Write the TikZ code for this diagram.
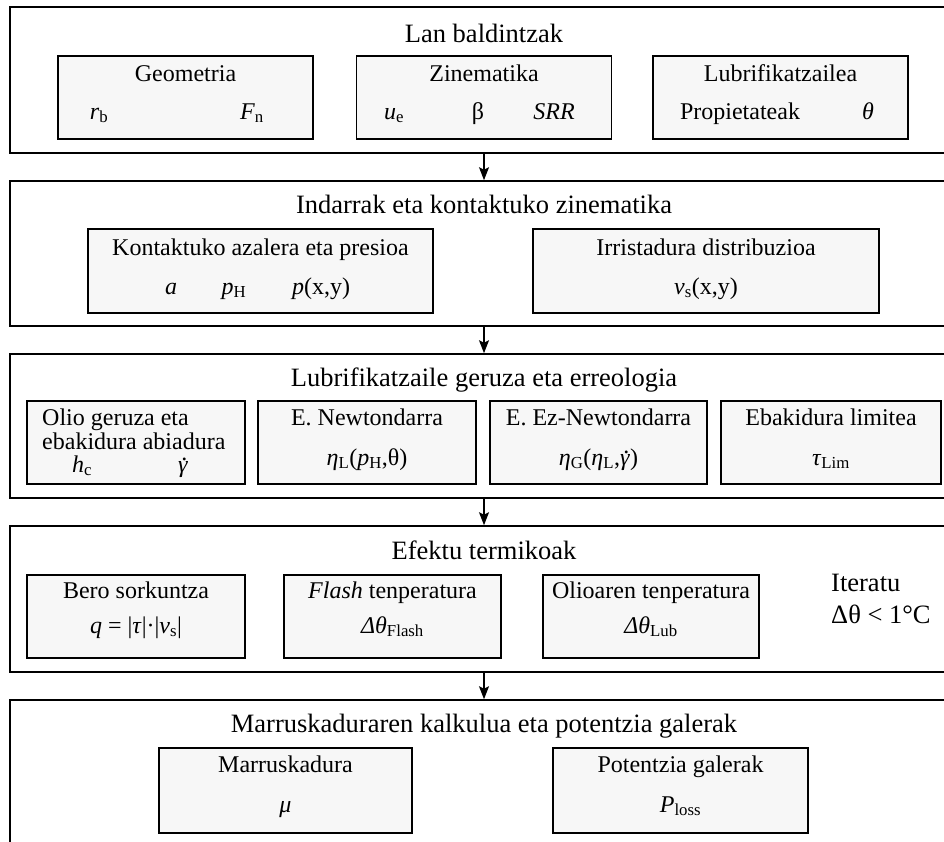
\documentclass[tikz,border=0pt]{standalone}
\usepackage{fontspec}
\setmainfont{Liberation Serif}
\usetikzlibrary{arrows.meta}
\newcommand{\sbs}[1]{\textsubscript{#1}}
\newcommand{\gd}{\textit{γ}\llap{\smash{\raisebox{0.5em}{.}}\hspace{0.03em}}}
\begin{document}
\begin{tikzpicture}[x=1pt,y=-1pt,
  outer/.style={draw,line width=1.6pt,fill=white,minimum width=948pt,inner sep=0pt},
  inbox/.style={draw,line width=1.6pt,fill=black!3,inner sep=0pt},
  ttl/.style={font=\fontsize{26.5pt}{30pt}\selectfont,anchor=base,inner sep=0pt},
  txt/.style={font=\fontsize{24pt}{28pt}\selectfont,anchor=base,inner sep=0pt},
  flow/.style={line width=1.3pt,-{Stealth[length=13pt,width=10pt,inset=2.5pt]}}]
\useasboundingbox (0,0) rectangle (944,841);
% outer boxes
\node[outer,minimum height=146pt] (b1) at (484,80) {};
\node[outer,minimum height=145pt] (b2) at (484,253.5) {};
\node[outer,minimum height=144pt] (b3) at (484,426) {};
\node[outer,minimum height=146pt] (b4) at (484,599) {};
\node[outer,minimum height=170pt] (b5) at (484,785) {};
% arrows
\draw[flow] (b1.south) -- (b2.north);
\draw[flow] (b2.south) -- (b3.north);
\draw[flow] (b3.south) -- (b4.north);
\draw[flow] (b4.south) -- (b5.north);
% row 1
\node[ttl] (t1) at (484,42) {Lan baldintzak};
\node[inbox,minimum width=255pt,minimum height=83pt] (geo) at (185.5,97.5) {};
\node[inbox,minimum width=255pt,minimum height=83pt] (zin) at (484,97.5) {};
\node[inbox,minimum width=255pt,minimum height=83pt] (lub) at (780.5,97.5) {};
\node[txt] (geoT) at (185.5,81) {Geometria};
\node[txt] (rb) at (99,119) {\textit{r}\sbs{b}};
\node[txt] (fn) at (252,119) {\textit{F}\sbs{n}};
\node[txt] (zinT) at (484,81) {Zinematika};
\node[txt] (ue) at (394,119) {\textit{u}\sbs{e}};
\node[txt] (beta) at (478,119) {β};
\node[txt] (srr) at (554,119) {\textit{SRR}};
\node[txt] (lubT) at (780.5,81) {Lubrifikatzailea};
\node[txt] (prop) at (740,119) {Propietateak};
\node[txt] (th) at (868,119) {\textit{θ}};
% row 2
\node[ttl] (t2) at (484,213) {Indarrak eta kontaktuko zinematika};
\node[inbox,minimum width=345pt,minimum height=84pt] (kon) at (260.5,271) {};
\node[inbox,minimum width=346pt,minimum height=84pt] (irr) at (706,271) {};
\node[txt] (konT) at (260.5,255) {Kontaktuko azalera eta presioa};
\node[txt] (aa) at (171,294) {\textit{a}};
\node[txt] (ph) at (234,294) {\textit{p}\sbs{H}};
\node[txt] (pxy) at (321,294) {\textit{p}(x,y)};
\node[txt] (irrT) at (706,255) {Irristadura distribuzioa};
\node[txt] (vs) at (706,294) {\textit{v}\sbs{s}(x,y)};
% row 3
\node[ttl] (t3) at (484,386) {Lubrifikatzaile geruza eta erreologia};
\node[inbox,minimum width=218pt,minimum height=83pt] (oli) at (136,442.5) {};
\node[inbox,minimum width=218pt,minimum height=83pt] (new) at (367,442.5) {};
\node[inbox,minimum width=217pt,minimum height=83pt] (ezn) at (598.5,442.5) {};
\node[inbox,minimum width=220pt,minimum height=83pt] (eba) at (831,442.5) {};
\node[txt,anchor=base west] (oliT1) at (42,425) {Olio geruza eta};
\node[txt,anchor=base west] (oliT2) at (42,449) {ebakidura abiadura};
\node[txt] (hc) at (82,472) {\textit{h}\sbs{c}};
\node[txt] (gam) at (183,472) {\gd};
\node[txt] (newT) at (367,425) {E. Newtondarra};
\node[txt] (etaL) at (367,465) {\textit{η}\sbs{L}(\textit{p}\sbs{H},θ)};
\node[txt] (eznT) at (598.5,425) {E. Ez-Newtondarra};
\node[txt] (etaG) at (598.5,465) {\textit{η}\sbs{G}(\textit{η}\sbs{L},\gd)};
\node[txt] (ebaT) at (831,425) {Ebakidura limitea};
\node[txt] (tau) at (831,465) {\textit{τ}\sbs{Lim}};
% row 4
\node[ttl] (t4) at (484,559) {Efektu termikoak};
\node[inbox,minimum width=218pt,minimum height=83pt] (ber) at (136,616.5) {};
\node[inbox,minimum width=217pt,minimum height=83pt] (fla) at (392.5,616.5) {};
\node[inbox,minimum width=216pt,minimum height=83pt] (oil) at (651,616.5) {};
\node[txt] (berT) at (136,598) {Bero sorkuntza};
\node[txt] (qq) at (136,633) {\textit{q} = |\textit{τ}|·|\textit{v}\sbs{s}|};
\node[txt] (flaT) at (392.5,598) {\textit{Flash} tenperatura};
\node[txt] (dtf) at (392.5,633) {\textit{Δθ}\sbs{Flash}};
\node[txt] (oilT) at (651,598) {Olioaren tenperatura};
\node[txt] (dtl) at (651,633) {\textit{Δθ}\sbs{Lub}};
\node[ttl,anchor=base west] (it1) at (831,591) {Iteratu};
\node[ttl,anchor=base west] (it2) at (831,623) {Δθ < 1°C};
% row 5
\node[ttl] (t5) at (484,732) {Marruskaduraren kalkulua eta potentzia galerak};
\node[inbox,minimum width=253pt,minimum height=85pt] (mar) at (285.5,790.5) {};
\node[inbox,minimum width=255pt,minimum height=85pt] (pot) at (680.5,790.5) {};
\node[txt] (marT) at (285.5,772) {Marruskadura};
\node[txt] (mu) at (285.5,812) {\textit{μ}};
\node[txt] (potT) at (680.5,772) {Potentzia galerak};
\node[txt] (pl) at (680.5,812) {\textit{P}\sbs{loss}};
\end{tikzpicture}
\end{document}
